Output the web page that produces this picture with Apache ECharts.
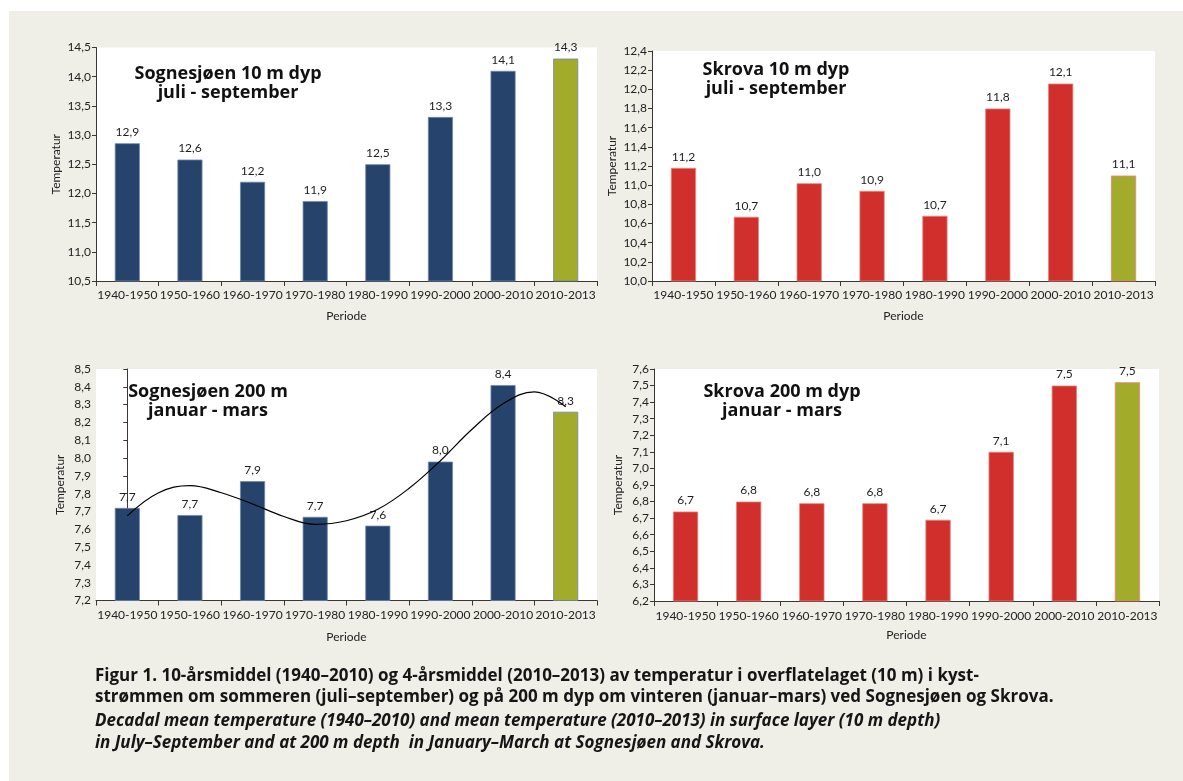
<!DOCTYPE html>
<html>
<head>
<meta charset="utf-8">
<script src="https://cdn.jsdelivr.net/npm/echarts@6/dist/echarts.min.js"></script>
<style>
  html, body { margin: 0; padding: 0; background: #ffffff; width: 1183px; height: 781px; overflow: hidden; }
  #panel { position: absolute; left: 9px; top: 11px; right: 0; bottom: 0; background: #efeee7; }
  #chart { position: absolute; left: 0; top: 0; width: 1183px; height: 781px; }
</style>
</head>
<body>
<div id="panel"></div>
<div id="chart"></div>
<script>
// Periods on the x axis
const periods = ['1940-1950', '1950-1960', '1960-1970', '1970-1980', '1980-1990', '1990-2000', '2000-2010', '2010-2013'];

// Mean temperatures (°C) per period
const sognesjoen10m = [12.86, 12.58, 12.20, 11.87, 12.50, 13.31, 14.10, 14.31];
const skrova10m     = [11.18, 10.67, 11.02, 10.94, 10.68, 11.80, 12.06, 11.10];
const sognesjoen200m = [7.72, 7.68, 7.87, 7.67, 7.62, 7.98, 8.41, 8.26];
const skrova200m     = [6.74, 6.80, 6.79, 6.79, 6.69, 7.10, 7.50, 7.52];

// Trend curve over the Sognesjøen 200 m bars (position in periods, temperature)
const trendPos  = [0, 0.5, 1, 1.5, 2, 2.5, 3, 3.5, 4, 4.5, 5, 5.5, 6, 6.5, 7];
const trendTemp = [7.675, 7.805, 7.845, 7.805, 7.742, 7.672, 7.628, 7.648, 7.712, 7.83, 7.985, 8.16, 8.305, 8.372, 8.288];

// Y axis ranges: [min, max, step]
const sognesjoen10mAxis  = [10.5, 14.5, 0.5];
const skrova10mAxis      = [10.0, 12.4, 0.2];
const sognesjoen200mAxis = [7.2, 8.5, 0.1];
const skrova200mAxis     = [6.2, 7.6, 0.1];

// Panel titles (two lines each)
const panelTitles = [
  ['Sognesjøen 10 m dyp', 'juli - september'],
  ['Skrova 10 m dyp', 'juli - september'],
  ['Sognesjøen 200 m', 'januar - mars'],
  ['Skrova 200 m dyp', 'januar - mars']
];

// Figure caption lines
const captionBold = [
  'Figur 1. 10-årsmiddel (1940–2010) og 4-årsmiddel (2010–2013) av temperatur i overflatelaget (10 m) i kyst-',
  'strømmen om sommeren (juli–september) og på 200 m dyp om vinteren (januar–mars) ved Sognesjøen og Skrova.'
];
const captionItalic = [
  'Decadal mean temperature (1940–2010) and mean temperature (2010–2013) in surface layer (10 m depth)',
  'in July–September and at 200 m depth  in January–March at Sognesjøen and Skrova.'
];

const FONT = 'Lato, "Open Sans", sans-serif';
const HEAD_FONT = '"Open Sans", Lato, sans-serif';
const NAVY = '#26436c', RED = '#d02f2b', OLIVE = '#a3ab2b';
const AXIS = '#3b3632';
const comma = v => v.toFixed(1).replace('.', ',');

// Layout of the four panels
const panels = [
  { values: sognesjoen10m,  range: sognesjoen10mAxis,  color: NAVY, border: '#7088ab', left: 96,  top: 47.5, width: 501, height: 233.5, nameGap: 34, labelMargin: 8,  periodeGap: 29, title: [228, 74, 93] },
  { values: skrova10m,      range: skrova10mAxis,      color: RED,  border: '#e4857e', left: 652, top: 51,   width: 503, height: 230,   nameGap: 34, labelMargin: 8,  periodeGap: 29, title: [776, 70, 89] },
  { values: sognesjoen200m, range: sognesjoen200mAxis, color: NAVY, border: '#7088ab', left: 96,  top: 369,  width: 501, height: 231.5, nameGap: 30, labelMargin: 9,  periodeGap: 31, title: [208, 392, 411] },
  { values: skrova200m,     range: skrova200mAxis,     color: RED,  border: '#e4857e', left: 654, top: 369,  width: 505, height: 232,   nameGap: 30, labelMargin: 9,  periodeGap: 28, title: [782, 392, 411] }
];

const grid = [], xAxis = [], yAxis = [], series = [], graphic = [];

panels.forEach((p, i) => {
  grid.push({ left: p.left, top: p.top, width: p.width, height: p.height, show: true, backgroundColor: '#ffffff', borderWidth: 0 });
  xAxis.push({
    type: 'category', gridIndex: i, data: periods,
    name: 'Periode', nameLocation: 'middle', nameGap: p.periodeGap,
    nameTextStyle: { fontFamily: FONT, fontSize: 12, color: '#222' },
    axisLine: { lineStyle: { color: AXIS, width: 1 } },
    axisTick: { show: true, length: 5, lineStyle: { color: AXIS } },
    axisLabel: { interval: 0, margin: p.labelMargin, fontFamily: FONT, fontSize: 12, color: '#222' },
    splitLine: { show: false }
  });
  yAxis.push({
    type: 'value', gridIndex: i, min: p.range[0], max: p.range[1], interval: p.range[2],
    name: 'Temperatur', nameLocation: 'middle', nameGap: p.nameGap, nameRotate: 90,
    nameTextStyle: { fontFamily: FONT, fontSize: 12, color: '#222' },
    axisLine: { show: true, lineStyle: { color: AXIS, width: 1 } },
    axisTick: { show: true, length: 4, lineStyle: { color: AXIS } },
    axisLabel: { margin: 5, fontFamily: FONT, fontSize: 12, color: '#222', formatter: v => comma(v) },
    splitLine: { show: false }
  });
  series.push({
    type: 'bar', xAxisIndex: i, yAxisIndex: i,
    data: p.values, barWidth: '40%', silent: true,
    itemStyle: {
      color: params => params.dataIndex === p.values.length - 1 ? OLIVE : p.color,
      borderColor: p.border, borderWidth: 0.8
    },
    label: {
      show: true, position: 'top', distance: 5,
      fontFamily: FONT, fontSize: 12, color: '#1e1e1e',
      formatter: params => comma(params.value)
    }
  });
  graphic.push(
    { type: 'text', x: p.title[0], y: p.title[1], style: { text: panelTitles[i][0], font: 'bold 18px ' + HEAD_FONT, fill: '#111', align: 'center', verticalAlign: 'middle' } },
    { type: 'text', x: p.title[0], y: p.title[2], style: { text: panelTitles[i][1], font: 'bold 18px ' + HEAD_FONT, fill: '#111', align: 'center', verticalAlign: 'middle' } }
  );
});

// Hidden numeric x axis for the trend curve in the Sognesjøen 200 m panel
xAxis.push({ type: 'value', gridIndex: 2, min: -0.5, max: 7.5, show: false });
series.push({
  type: 'line', xAxisIndex: 4, yAxisIndex: 2,
  data: trendPos.map((x, k) => [x, trendTemp[k]]),
  smooth: 0.4, symbol: 'none', silent: true, z: 5,
  lineStyle: { color: '#000', width: 1.2 }
});

// Caption
const captionY = [676, 697, 721, 743];
captionBold.forEach((t, k) => graphic.push({
  type: 'text', x: 95, y: captionY[k],
  style: { text: t, font: 'bold 17px ' + HEAD_FONT, fill: '#151515', align: 'left', verticalAlign: 'middle' }
}));
captionItalic.forEach((t, k) => graphic.push({
  type: 'text', x: 95, y: captionY[k + 2],
  style: { text: t, font: 'italic bold 17px ' + HEAD_FONT, fill: '#151515', align: 'left', verticalAlign: 'middle' }
}));

const chart = echarts.init(document.getElementById('chart'), null, { renderer: 'canvas' });
chart.setOption({
  backgroundColor: 'transparent',
  animation: false,
  grid, xAxis, yAxis, series, graphic
});
</script>
</body>
</html>
